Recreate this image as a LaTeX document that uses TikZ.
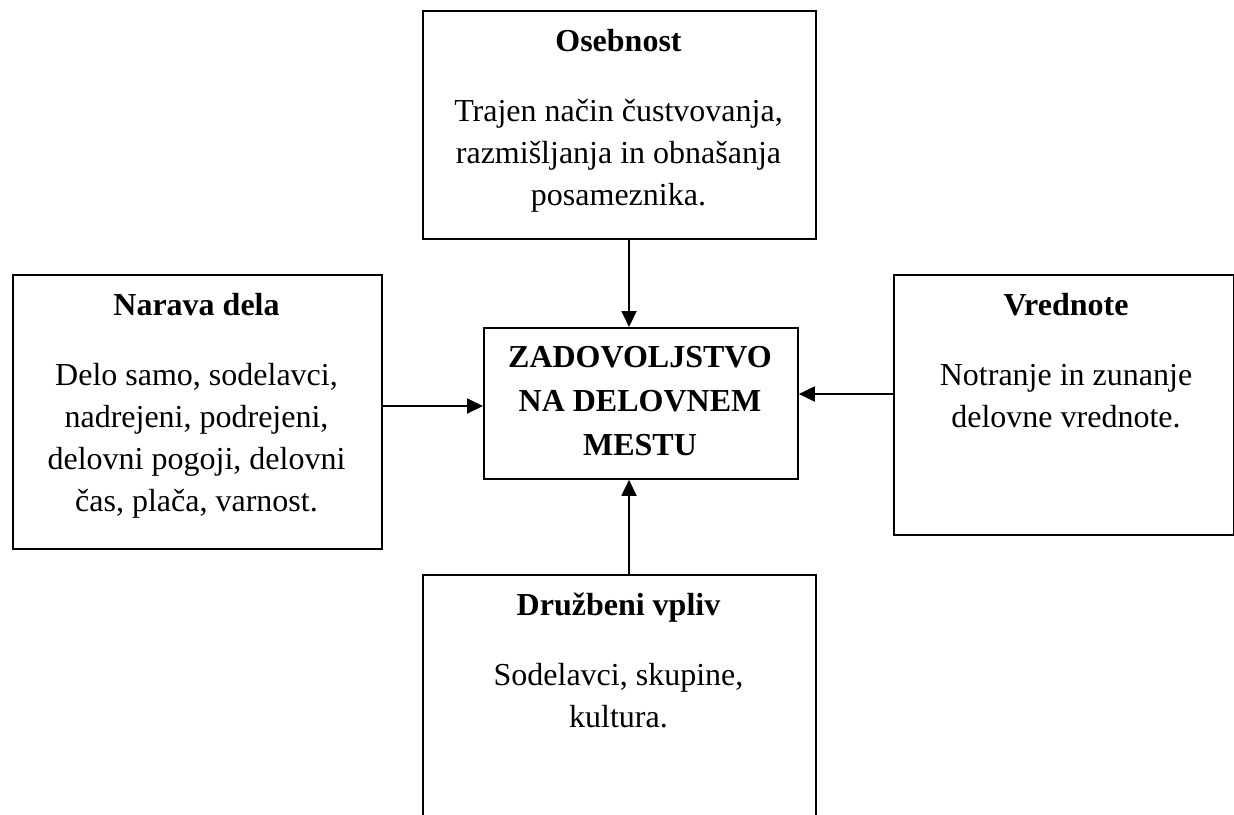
\documentclass[tikz,border=0pt]{standalone}
\usepackage{fontspec}
\setmainfont{Liberation Serif}
\usetikzlibrary{arrows.meta}
\begin{document}
\begin{tikzpicture}[x=0.5pt,y=-0.5pt,
  box/.style={draw=black, line width=0.9pt, inner sep=0pt, anchor=north west},
  ttl/.style={font=\fontsize{16}{21.15}\selectfont\bfseries, anchor=base, inner sep=0pt},
  txt/.style={font=\fontsize{16}{21.15}\selectfont, anchor=base, inner sep=0pt},
  arr/.style={line width=0.9pt, -{Triangle[width=7.5pt,length=8pt]}}]
\useasboundingbox (0,0) rectangle (1234,814);
\clip (0,0) rectangle (1234,814);
\fill[white] (0,0) rectangle (1234,814);

% boxes
\node[box, minimum width=196.5pt, minimum height=114pt] (oseb) at (422,10) {};
\node[box, minimum width=184.5pt, minimum height=137pt] (narava) at (12,274) {};
\node[box, minimum width=157pt, minimum height=75.5pt] (zad) at (483,327) {};
\node[box, minimum width=169.8pt, minimum height=130pt] (vred) at (893,274) {};
\node[box, minimum width=196.5pt, minimum height=130pt] (druz) at (422,574) {};

% Osebnost
\node[ttl] (o0) at (618.5,51) {Osebnost};
\node[txt] (o1) at (618.5,121) {Trajen način čustvovanja,};
\node[txt] (o2) at (618.5,163.3) {razmišljanja in obnašanja};
\node[txt] (o3) at (618.5,205.6) {posameznika.};

% Narava dela
\node[ttl] (n0) at (196.5,315) {Narava dela};
\node[txt] (n1) at (196.5,385) {Delo samo, sodelavci,};
\node[txt] (n2) at (196.5,427.3) {nadrejeni, podrejeni,};
\node[txt] (n3) at (196.5,469.6) {delovni pogoji, delovni};
\node[txt] (n4) at (196.5,511.9) {čas, plača, varnost.};

% Vrednote
\node[ttl] (v0) at (1066,315) {Vrednote};
\node[txt] (v1) at (1066,385) {Notranje in zunanje};
\node[txt] (v2) at (1066,427.3) {delovne vrednote.};

% Druzbeni vpliv
\node[ttl] (d0) at (618.5,615) {Družbeni vpliv};
\node[txt] (d1) at (618.5,685) {Sodelavci, skupine,};
\node[txt] (d2) at (618.5,727.3) {kultura.};

% centre
\node[ttl] (z1) at (640,367) {ZADOVOLJSTVO};
\node[ttl] (z2) at (640,411.4) {NA DELOVNEM};
\node[ttl] (z3) at (640,455.8) {MESTU};

% connectors
\coordinate (vx) at (629,0);
\coordinate (hyL) at (0,406);
\coordinate (hyR) at (0,394);
\draw[arr] (oseb.south -| vx) -- (zad.north -| vx);
\draw[arr] (druz.north -| vx) -- (zad.south -| vx);
\draw[arr] (narava.east |- hyL) -- (zad.west |- hyL);
\draw[arr] (vred.west |- hyR) -- (zad.east |- hyR);
\end{tikzpicture}
\end{document}
